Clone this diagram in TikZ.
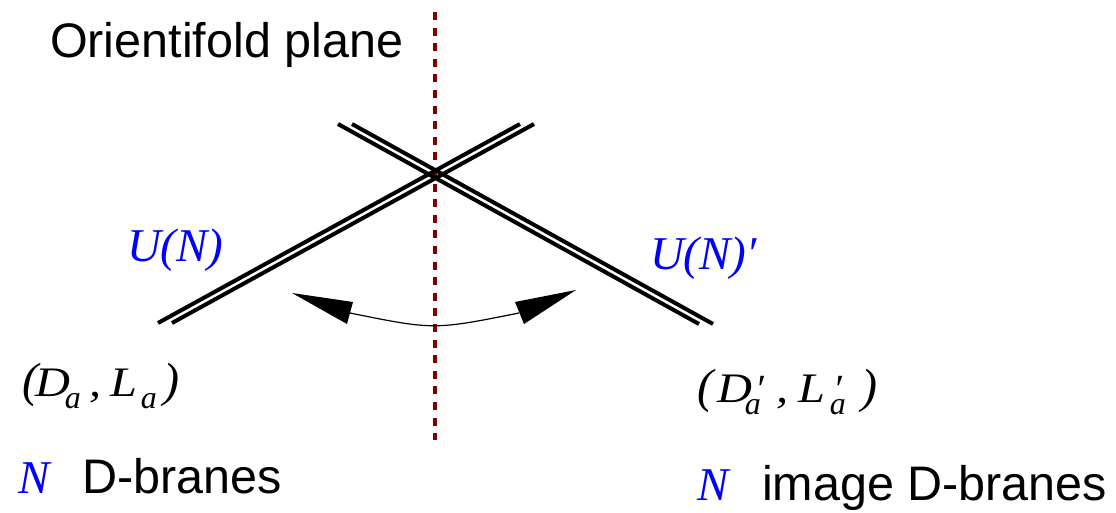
\documentclass[tikz,border=0pt]{standalone}
\usepackage{fontspec}
\setmainfont{Liberation Sans}
\newfontfamily\tim{Liberation Serif}
\newfontfamily\timw[FakeStretch=1.15]{Liberation Serif}
\usetikzlibrary{arrows.meta}
\definecolor{planered}{RGB}{128,0,0}
\definecolor{labelblue}{RGB}{0,0,255}
\newcommand\bigpar[1]{{\tim\itshape\fontsize{48}{48}\selectfont #1}}
\newcommand\suba{\raisebox{-12pt}{\tim\itshape\fontsize{32}{32}\selectfont a}}
\newcommand\prm[1]{\rlap{\kern#1\raisebox{0pt}{\tim\itshape\fontsize{40}{40}\selectfont ′}}}
\begin{document}
\begin{tikzpicture}[x=1pt,y=-1pt,
  txt/.style={anchor=base west,inner sep=0pt,outer sep=0pt},
  sans/.style={txt,font=\fontsize{48.5}{50}\selectfont},
  blue lbl/.style={txt,text=labelblue,font=\tim\itshape\fontsize{47}{50}\selectfont},
  coord lbl/.style={txt,font=\timw\itshape\fontsize{42}{44}\selectfont},
  brane/.style={line width=4pt,black},
  plane/.style={planered,line width=3.6pt,dash pattern=on 8pt off 7.6pt},
  swing/.style={line width=1.2pt},
  swinghead/.style={fill=black}]
\useasboundingbox (0,0) rectangle (1116,512);
% orientifold plane
\coordinate (ptop) at (435,12);
\coordinate (pbot) at (435,440);
\draw[plane] (ptop) -- (pbot);
% brane a (lower left to upper right)
\coordinate (a1s) at (158,323); \coordinate (a1e) at (520,124);
\coordinate (a2s) at (172,323); \coordinate (a2e) at (534,124);
\draw[brane] (a1s) -- (a1e);
\draw[brane] (a2s) -- (a2e);
% image brane (upper left to lower right)
\coordinate (b1s) at (338,124); \coordinate (b1e) at (699,324);
\coordinate (b2s) at (352,124); \coordinate (b2e) at (713,324);
\draw[brane] (b1s) -- (b1e);
\draw[brane] (b2s) -- (b2e);
% swing arrow
\coordinate (ltip) at (292,293);
\coordinate (lbase) at (350,313);
\coordinate (rtip) at (576,290);
\coordinate (rbase) at (519,313);
\draw[swing] (lbase) .. controls (434,330) .. (rbase);
\fill[swinghead] (ltip) -- (353,302) -- (347,324) -- cycle;
\fill[swinghead] (rtip) -- (515,302) -- (524,324) -- cycle;
% labels
\node[sans] (title) at (50,57) {Orientifold plane};
\node[blue lbl] (un) at (127,261) {U(N)};
\node[blue lbl] (unp) at (650,269) {U(N)′};
\node[coord lbl] (da) at (22,396) {\bigpar{(}\kern-2pt D\kern-6pt\suba\kern9pt,\hspace{9pt}L\kern3pt\suba\kern7pt\bigpar{)}};
\node[coord lbl] (dap) at (697,402) {\bigpar{(}\kern5pt D\prm{3pt}\kern-8pt\suba\hspace{16pt},\hspace{10pt}L\prm{8pt}\kern4pt\suba\hspace{16pt}\bigpar{)}};
\node[blue lbl] (n1) at (18,493) {N};
\node[sans] (db1) at (82,493) {D-branes};
\node[blue lbl] (n2) at (697,500) {N};
\node[sans] (db2) at (762,500) {image D-branes};
\end{tikzpicture}
\end{document}
